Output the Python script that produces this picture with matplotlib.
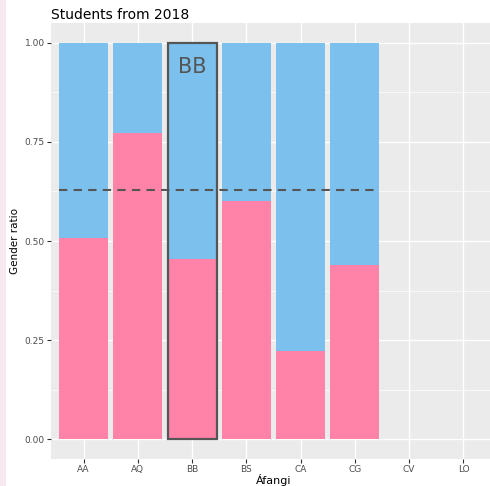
import numpy as np
import matplotlib.pyplot as plt
from matplotlib.patches import Rectangle

# data
courses = ['AA', 'AQ', 'BB', 'BS', 'CA', 'CG', 'CV', 'LO']
female_ratio = [0.508, 0.773, 0.455, 0.601, 0.222, 0.440, np.nan, np.nan]
mean_ratio = 0.628
highlight = 'BB'

pink = '#ff83a8'
blue = '#7cc0ee'

fig = plt.figure(figsize=(4.9, 4.86), dpi=100)
fig.patch.set_facecolor('white')
# pinkish strip on the left edge
fig.add_artist(Rectangle((0, 0), 6 / 490, 1, transform=fig.transFigure,
                         facecolor='#f8e9f0', edgecolor='none'))

ax = fig.add_axes([51 / 490, 27 / 486, 445 / 490, 436 / 486])
ax.set_facecolor('#ebebeb')

x = np.arange(len(courses))
fem = np.array(female_ratio)
has = ~np.isnan(fem)
ax.bar(x[has], fem[has], width=0.9, color=pink, zorder=2)
ax.bar(x[has], 1 - fem[has], bottom=fem[has], width=0.9, color=blue, zorder=2)

# highlighted course
i = courses.index(highlight)
ax.bar(x[i], 1, width=0.9, facecolor='none', edgecolor='#555555', linewidth=1.6, zorder=3)
ax.text(x[i], 0.94, highlight, ha='center', va='center', fontsize=15, color='#555555', zorder=4)

# dashed mean line over the bars that have data
ax.plot([x[has].min() - 0.45, x[has].max() + 0.45], [mean_ratio, mean_ratio],
        linestyle=(0, (4, 3)), color='#555555', linewidth=1.5, zorder=4)

ax.set_xlim(-0.6, len(courses) - 0.4)
ax.set_ylim(-0.05, 1.05)
ax.set_xticks(x)
ax.set_xticklabels(courses)
ax.set_yticks([0, 0.25, 0.5, 0.75, 1.0])
ax.set_yticklabels(['0.00', '0.25', '0.50', '0.75', '1.00'])
ax.set_yticks([0.125, 0.375, 0.625, 0.875], minor=True)

ax.grid(True, which='major', color='white', linewidth=1.0, zorder=0)
ax.grid(True, which='minor', axis='y', color='white', linewidth=0.5, zorder=0)
ax.set_axisbelow(True)
for s in ax.spines.values():
    s.set_visible(False)

ax.tick_params(axis='both', which='major', length=3, width=0.8, color='#333333',
               labelsize=6.5, labelcolor='#4d4d4d', pad=1.5)
ax.tick_params(axis='both', which='minor', length=0)

ax.set_xlabel('Áfangi', fontsize=8, labelpad=0)
ax.set_ylabel('Gender ratio', fontsize=7.5, labelpad=3)
ax.set_title('Students from 2018', fontsize=10, loc='left', pad=3)

fig.savefig('out.png', dpi=100)
